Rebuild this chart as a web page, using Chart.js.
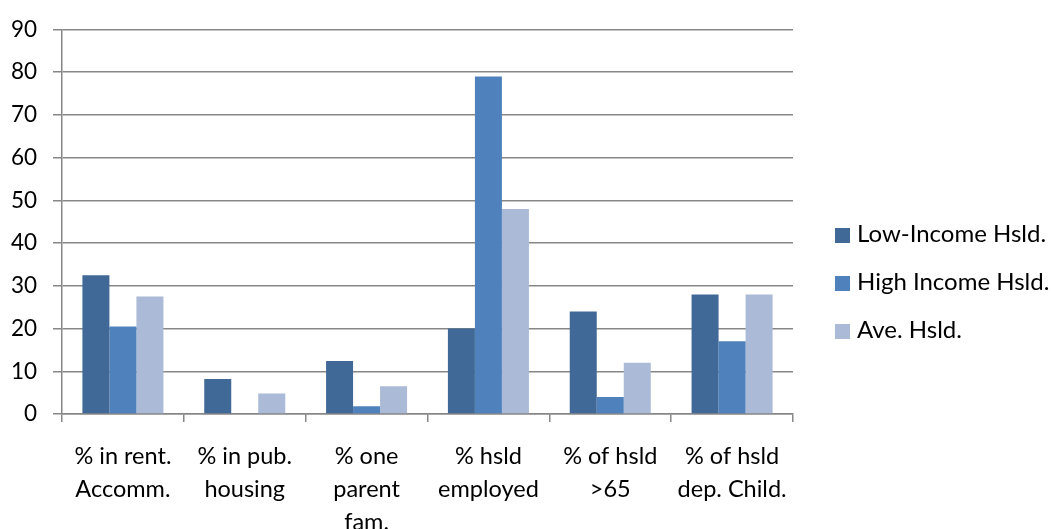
<!DOCTYPE html>
<html>
<head>
<meta charset="utf-8">
<script src="https://cdn.jsdelivr.net/npm/chart.js@4.4.0/dist/chart.umd.min.js"></script>
<style>
  body { margin: 0; background: #fff; }
  #wrap { position: relative; width: 1053px; height: 529px; }
  #legend { position: absolute; left: 835px; top: 209px; font-family: Lato, sans-serif; font-size: 24px; color: #000; }
  .item { height: 48px; line-height: 48px; white-space: nowrap; }
  .box { display: inline-block; width: 15px; height: 15px; margin-right: 7px; vertical-align: -1px; }
</style>
</head>
<body>
<div id="wrap">
  <canvas id="chart" width="1053" height="529"></canvas>
  <div id="legend"></div>
</div>
<script>
const categories = [
  ['% in rent.', 'Accomm.'],
  ['% in pub.', 'housing'],
  ['% one', 'parent', 'fam.'],
  ['% hsld', 'employed'],
  ['% of hsld', '>65'],
  ['% of hsld', 'dep. Child.']
];
const seriesNames = ['Low-Income Hsld.', 'High Income Hsld.', 'Ave. Hsld.'];
const lowIncome = [32.5, 8.2, 12.4, 20, 24, 28];
const highIncome = [20.5, 0, 1.8, 79, 4, 17];
const average = [27.5, 4.8, 6.5, 48, 12, 28];
const colors = ['#416997', '#4F81BD', '#AABAD7'];

const gridColor = '#878787';

const datasets = [lowIncome, highIncome, average].map((values, i) => ({
  label: seriesNames[i],
  data: values,
  backgroundColor: colors[i],
  borderWidth: 0,
  categoryPercentage: 0.665,
  barPercentage: 1
}));

new Chart(document.getElementById('chart'), {
  type: 'bar',
  data: { labels: categories, datasets: datasets },
  options: {
    responsive: false,
    animation: false,
    layout: { padding: { top: 6, right: 260, left: 0, bottom: 0 } },
    plugins: { legend: { display: false }, tooltip: { enabled: false } },
    scales: {
      y: {
        min: 0,
        max: 90,
        ticks: {
          stepSize: 10,
          color: '#000',
          padding: 16,
          font: { family: 'Lato', size: 22.5 }
        },
        grid: { color: gridColor, lineWidth: 1.5, tickLength: 9 },
        border: { color: gridColor, width: 1.5 },
        afterFit: s => { s.width = 62; }
      },
      x: {
        offset: true,
        grid: { drawOnChartArea: false, offset: true, color: gridColor, lineWidth: 1.5, tickLength: 8 },
        border: { color: gridColor, width: 1.5 },
        ticks: {
          color: '#000',
          padding: 18,
          maxRotation: 0,
          autoSkip: false,
          font: { family: 'Lato', size: 23.5, lineHeight: 1.4 }
        },
        afterFit: s => { s.height = 115; }
      }
    }
  }
});

// legend built from the same series names and colours
document.getElementById('legend').innerHTML = seriesNames
  .map((name, i) => `<div class="item"><span class="box" style="background:${colors[i]}"></span>${name}</div>`)
  .join('');
</script>
</body>
</html>
